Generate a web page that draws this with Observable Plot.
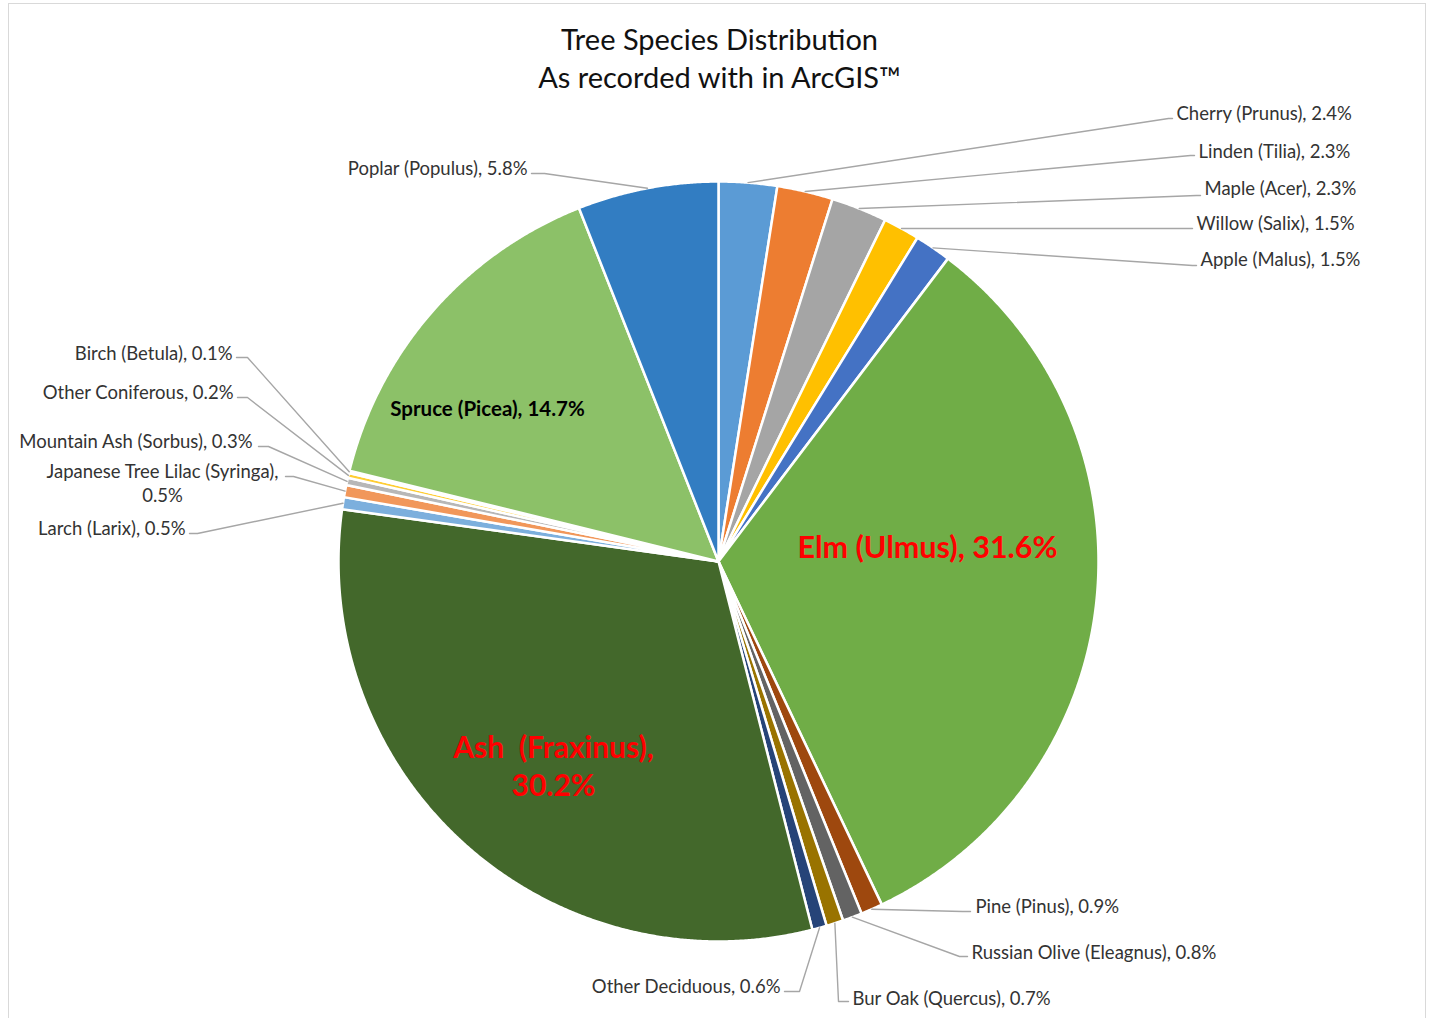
<!DOCTYPE html>
<html>
<head>
<meta charset="utf-8">
<script src="https://cdn.jsdelivr.net/npm/d3@7"></script>
<script src="https://cdn.jsdelivr.net/npm/@observablehq/plot@0.6"></script>
<style>
  html, body { margin: 0; padding: 0; background: #fff; }
  #page { position: relative; width: 1429px; height: 1018px; overflow: hidden; background: #fff; font-family: Lato, "Open Sans", sans-serif; }
  #frame { position: absolute; left: 8px; top: 3px; width: 1418px; height: 1040px; border: 1px solid #d9d9d9; box-sizing: border-box; }
  #title { position: absolute; left: 5px; top: 20px; width: 1429px; text-align: center; font-size: 29px; line-height: 38px; color: #111; }
  #chart { position: absolute; left: 0; top: 100px; }
  #chart svg text { white-space: pre; }
</style>
</head>
<body>
<div id="page">
  <div id="frame"></div>
  <div id="title">Tree Species Distribution<br>As recorded with in ArcGIS™</div>
  <div id="chart"></div>
</div>
<script>
// ---------- data ----------
const species = ["Cherry (Prunus)", "Linden (Tilia)", "Maple (Acer)", "Willow (Salix)", "Apple (Malus)",
  "Elm (Ulmus)", "Pine (Pinus)", "Russian Olive (Eleagnus)", "Bur Oak (Quercus)", "Other Deciduous",
  "Ash  (Fraxinus)", "Larch (Larix)", "Japanese Tree Lilac (Syringa)", "Mountain Ash (Sorbus)",
  "Other Coniferous", "Birch (Betula)", "Spruce (Picea)", "Poplar (Populus)"];
const percents = [2.4, 2.3, 2.3, 1.5, 1.5, 31.6, 0.9, 0.8, 0.7, 0.6, 30.2, 0.5, 0.5, 0.3, 0.2, 0.1, 14.7, 5.8];
const sliceColors = ["#5B9BD5", "#ED7D31", "#A5A5A5", "#FFC000", "#4472C4", "#70AD47", "#9E480E", "#636363",
  "#997300", "#264478", "#43682B", "#7CAFDD", "#F1975A", "#B7B7B7", "#FFCD33", "#698ED0", "#8CC168", "#327DC2"];

// ---------- layout (page pixel space) ----------
const pieCenter = {x: 718, y: 561}, pieRadius = 380;
const insideLabels = {
  "Spruce (Picea)":  {tx: 487, ty: 407, size: 20.5, color: "#000000", wrap: false},
  "Elm (Ulmus)":     {tx: 927, ty: 545, size: 30.5, color: "#FF0000", wrap: false},
  "Ash  (Fraxinus)": {tx: 553, ty: 764, size: 30, color: "#FF0000", wrap: true}
};
const outsideLabels = {
  "Cherry (Prunus)":          {tx: 1176, ty: 112, anchor: "start",  lx: 1172, ly: 118, e: 4},
  "Linden (Tilia)":           {tx: 1198, ty: 150, anchor: "start",  lx: 1194, ly: 155, e: 4},
  "Maple (Acer)":             {tx: 1204, ty: 187, anchor: "start",  lx: 1200, ly: 195, e: 4},
  "Willow (Salix)":           {tx: 1196, ty: 222, anchor: "start",  lx: 1192, ly: 228, e: 4},
  "Apple (Malus)":            {tx: 1200, ty: 258, anchor: "start",  lx: 1196, ly: 265, e: 4},
  "Pine (Pinus)":             {tx: 975,  ty: 905, anchor: "start",  lx: 970,  ly: 911, e: 8},
  "Russian Olive (Eleagnus)": {tx: 971,  ty: 951, anchor: "start",  lx: 967,  ly: 956, e: 8},
  "Bur Oak (Quercus)":        {tx: 852,  ty: 997, anchor: "start",  lx: 848,  ly: 1001, e: 10},
  "Other Deciduous":          {tx: 780,  ty: 985, anchor: "end",    lx: 784,  ly: 991, e: 15},
  "Larch (Larix)":            {tx: 185,  ty: 527, anchor: "end",    lx: 189,  ly: 533, e: 8},
  "Japanese Tree Lilac (Syringa)": {tx: 162, ty: 482, anchor: "middle", lx: 285, ly: 476, e: 8, wrap: true},
  "Mountain Ash (Sorbus)":    {tx: 252,  ty: 440, anchor: "end",    lx: 258,  ly: 446, e: 10},
  "Other Coniferous":         {tx: 233,  ty: 391, anchor: "end",    lx: 237,  ly: 397, e: 10},
  "Birch (Betula)":           {tx: 232,  ty: 352, anchor: "end",    lx: 236,  ly: 357, e: 11},
  "Poplar (Populus)":         {tx: 527,  ty: 167, anchor: "end",    lx: 531,  ly: 173, e: 13}
};

// ---------- derived geometry ----------
const arcs = d3.pie().sort(null).startAngle(0).endAngle(2 * Math.PI)(percents);
const px = a => pieCenter.x + pieRadius * Math.sin(a);
const py = a => pieCenter.y - pieRadius * Math.cos(a);

const slicePts = [];
arcs.forEach((arc, i) => {
  const name = species[i];
  const n = Math.max(2, Math.ceil((arc.endAngle - arc.startAngle) / (Math.PI / 720)));
  slicePts.push({name, x: pieCenter.x, y: pieCenter.y});
  for (let k = 0; k <= n; k++) {
    const a = arc.startAngle + (arc.endAngle - arc.startAngle) * k / n;
    slicePts.push({name, x: px(a), y: py(a)});
  }
  slicePts.push({name, x: pieCenter.x, y: pieCenter.y});
});

const labelText = (i, wrap) => `${species[i]},${wrap ? "\n" : " "}${percents[i]}%`;

const leaderPts = [], outTexts = [], inTexts = [];
arcs.forEach((arc, i) => {
  const name = species[i];
  const mid = (arc.startAngle + arc.endAngle) / 2;
  const o = outsideLabels[name];
  if (o) {
    const dir = o.anchor === "start" ? -1 : 1;
    leaderPts.push({name, x: px(mid), y: py(mid)});
    leaderPts.push({name, x: o.lx + dir * o.e, y: o.ly});
    leaderPts.push({name, x: o.lx, y: o.ly});
    outTexts.push({x: o.tx, y: o.ty, anchor: o.anchor, text: labelText(i, o.wrap)});
  }
  const ins = insideLabels[name];
  if (ins) inTexts.push({x: ins.tx, y: ins.ty, size: ins.size, color: ins.color, text: labelText(i, ins.wrap)});
});

const textMarks = (rows, anchor) => Plot.text(rows, {
  x: "x", y: "y", text: "text", textAnchor: anchor, fontSize: 18.5, fill: "#333333", lineHeight: 1.3
});

const chart = Plot.plot({
  width: 1429, height: 918, margin: 0,
  x: {domain: [0, 1429], axis: null},
  y: {domain: [1018, 100], axis: null},
  color: {domain: species, range: sliceColors},
  style: {fontFamily: "Lato, 'Open Sans', sans-serif", background: "transparent", overflow: "visible"},
  marks: [
    Plot.line(slicePts, {x: "x", y: "y", z: "name", fill: "name", stroke: "white", strokeWidth: 2.5, strokeLinejoin: "round", curve: "linear"}),
    Plot.line(leaderPts, {x: "x", y: "y", z: "name", stroke: "#a6a6a6", strokeWidth: 1.4, curve: "linear"}),
    textMarks(outTexts.filter(d => d.anchor === "start"), "start"),
    textMarks(outTexts.filter(d => d.anchor === "end"), "end"),
    textMarks(outTexts.filter(d => d.anchor === "middle"), "middle"),
    ...inTexts.map(d => Plot.text([d], {
      x: "x", y: "y", text: "text", textAnchor: "middle", fontSize: d.size, fontWeight: "bold",
      fill: d.color, lineHeight: 1.27
    }))
  ]
});
document.getElementById("chart").appendChild(chart);
</script>
</body>
</html>
